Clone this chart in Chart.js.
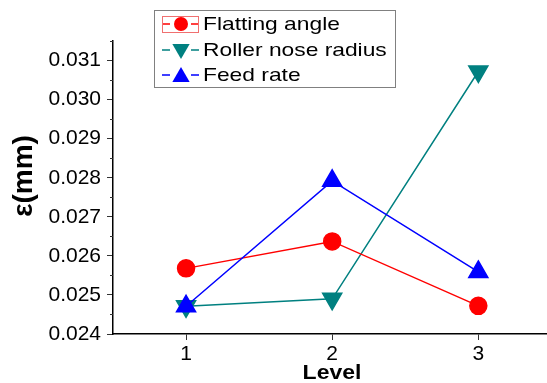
<!DOCTYPE html>
<html>
<head>
<meta charset="utf-8">
<script src="https://cdn.jsdelivr.net/npm/chart.js@4"></script>
<style>
  html, body { margin: 0; padding: 0; background: #fff; }
  #wrap { width: 547px; height: 383px; }
</style>
</head>
<body>
<div id="wrap"><canvas id="grafico" width="547" height="383"></canvas></div>
<script>
// datos
const levels = [1, 2, 3];
const flattingAngle = [0.02568, 0.02637, 0.02472];
const rollerNoseRadius = [0.02471, 0.02490, 0.03072];
const feedRate = [0.02471, 0.02792, 0.02559];
const yTicks = [0.024, 0.025, 0.026, 0.027, 0.028, 0.029, 0.030, 0.031];

const seriesNames = ['Flatting angle', 'Roller nose radius', 'Feed rate'];
const FONT = "'Liberation Sans', Arial, sans-serif";

const toPoints = arr => arr.map((v, i) => ({ x: levels[i], y: v }));

// marcas menores + leyenda + titulos
const extras = {
    id: 'extras',
    afterDraw(chart) {
        const ctx = chart.ctx;
        const y = chart.scales.y;
        const area = chart.chartArea;

        // ticks menores del eje y
        ctx.save();
        ctx.strokeStyle = '#333';
        ctx.lineWidth = 1;
        for (let i = 0; i < yTicks.length; i++) {
            const v = yTicks[i] + 0.0005;
            const py = Math.round(y.getPixelForValue(v)) + 0.5;
            if (py < area.top) continue;
            ctx.beginPath();
            ctx.moveTo(area.left - 3, py);
            ctx.lineTo(area.left, py);
            ctx.stroke();
        }
        ctx.restore();

        // titulo eje y
        ctx.save();
        ctx.translate(24, 176);
        ctx.rotate(-Math.PI / 2);
        ctx.fillStyle = '#000';
        ctx.font = 'bold 28px ' + FONT;
        ctx.textAlign = 'center';
        ctx.textBaseline = 'middle';
        ctx.fillText('ε(mm)', 0, 0);
        ctx.restore();

        // titulo eje x
        ctx.save();
        ctx.fillStyle = '#000';
        ctx.font = 'bold 20px ' + FONT;
        ctx.textAlign = 'center';
        ctx.textBaseline = 'middle';
        ctx.translate(332, 373);
        ctx.scale(1.15, 1);
        ctx.fillText('Level', 0, 0);
        ctx.restore();

        // leyenda
        ctx.save();
        ctx.strokeStyle = '#808080';
        ctx.lineWidth = 1;
        ctx.strokeRect(154.5, 10.5, 241, 77);
        const rows = [24, 50, 75];
        chart.data.datasets.forEach((ds, i) => {
            const ry = rows[i];
            ctx.strokeStyle = ds.borderColor;
            ctx.lineWidth = 1.5;
            ctx.beginPath();
            ctx.moveTo(162, ry); ctx.lineTo(170, ry);
            ctx.moveTo(191, ry); ctx.lineTo(199, ry);
            ctx.stroke();
            if (i === 0) {
                ctx.strokeStyle = '#f07070';
                ctx.lineWidth = 1;
                ctx.strokeRect(162.5, 16.5, 36, 16);
            }
            ctx.fillStyle = ds.pointBackgroundColor;
            ctx.strokeStyle = ds.pointBackgroundColor;
            Chart.helpers.drawPoint(ctx, {
                pointStyle: ds.pointStyle,
                radius: ds.pointStyle === 'circle' ? 7 : 10,
                rotation: ds.pointRotation || 0,
                borderWidth: 0
            }, 181, ry + (ds.pointStyle === 'triangle' ? (ds.pointRotation ? -1 : 2) : 0));
            ctx.fillStyle = '#000';
            ctx.font = '19px ' + FONT;
            ctx.textAlign = 'left';
            ctx.textBaseline = 'middle';
            ctx.save();
            ctx.translate(203, ry + 1);
            ctx.scale(1.2, 1);
            ctx.fillText(seriesNames[i], 0, 0);
            ctx.restore();
        });
        ctx.restore();
    }
};

const grafico = new Chart(document.getElementById('grafico').getContext('2d'), {
    type: 'line',
    data: {
        datasets: [
            {
                label: seriesNames[0],
                data: toPoints(flattingAngle),
                borderColor: '#ff0000',
                backgroundColor: '#ff0000',
                pointBackgroundColor: '#ff0000',
                pointBorderColor: '#ff0000',
                pointStyle: 'circle',
                pointRadius: 8.5,
                borderWidth: 1.5,
                order: 1
            },
            {
                label: seriesNames[1],
                data: toPoints(rollerNoseRadius),
                borderColor: '#008080',
                backgroundColor: '#008080',
                pointBackgroundColor: '#008080',
                pointBorderColor: '#008080',
                pointStyle: 'triangle',
                pointRotation: 180,
                pointRadius: 11,
                borderWidth: 1.5,
                order: 2
            },
            {
                label: seriesNames[2],
                data: toPoints(feedRate),
                borderColor: '#0000ff',
                backgroundColor: '#0000ff',
                pointBackgroundColor: '#0000ff',
                pointBorderColor: '#0000ff',
                pointStyle: 'triangle',
                pointRadius: 11,
                borderWidth: 1.5,
                order: 0
            }
        ]
    },
    options: {
        responsive: false,
        animation: false,
        layout: { autoPadding: false, padding: { top: 41, right: 0, left: 0, bottom: 0 } },
        plugins: {
            legend: { display: false },
            tooltip: { enabled: false }
        },
        scales: {
            x: {
                type: 'linear',
                min: 0.5,
                max: 3.47,
                afterFit: s => { s.height = 49; s.paddingLeft = 0; s.paddingRight = 0; },
                afterBuildTicks: s => { s.ticks = levels.map(v => ({ value: v })); },
                grid: { drawOnChartArea: false, tickLength: 6, color: '#333', lineWidth: 1 },
                border: { color: '#000', width: 1.5 },
                ticks: {
                    color: '#000',
                    font: { family: FONT, size: 21 },
                    padding: 2,
                    callback: v => String(v)
                }
            },
            y: {
                min: 0.024,
                max: 0.0315,
                afterFit: s => { s.width = 113; s.paddingTop = 0; s.paddingBottom = 0; },
                afterBuildTicks: s => { s.ticks = yTicks.map(v => ({ value: v })); },
                grid: { drawOnChartArea: false, tickLength: 6, color: '#333', lineWidth: 1 },
                border: { color: '#000', width: 1.5 },
                ticks: {
                    color: '#000',
                    font: { family: FONT, size: 21 },
                    padding: 6,
                    callback: v => v.toFixed(3)
                }
            }
        }
    },
    plugins: [extras]
});
</script>
</body>
</html>
